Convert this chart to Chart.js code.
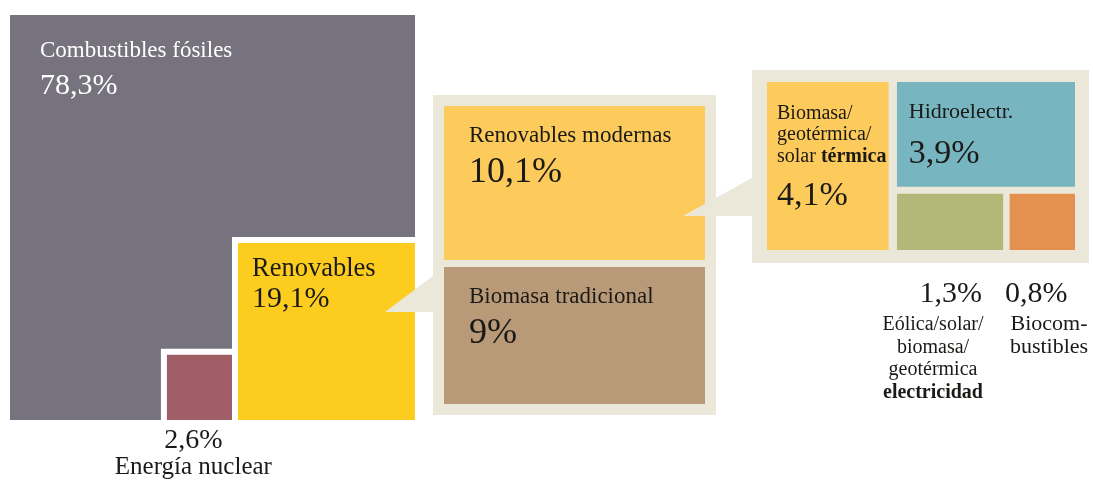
<!DOCTYPE html>
<html>
<head>
<meta charset="utf-8">
<script src="https://cdn.jsdelivr.net/npm/chart.js@4.4.0/dist/chart.umd.min.js"></script>
<style>
  html, body { margin: 0; padding: 0; background: #fff; }
</style>
</head>
<body>
<canvas id="chart" width="1093" height="482"></canvas>
<script>
// data
const mainLabels = ["Combustibles fósiles", "Renovables", "Energía nuclear"];
const mainValues = [78.3, 19.1, 2.6];
const renewLabels = ["Renovables modernas", "Biomasa tradicional"];
const renewValues = [10.1, 9];
const modernLabels = ["Biomasa/ geotérmica/ solar térmica", "Hidroelectr.", "Eólica/solar/ biomasa/ geotérmica electricidad", "Biocom- bustibles"];
const modernValues = [4.1, 3.9, 1.3, 0.8];

// colours
const mainColors = ["#76737e", "#fccd1f", "#a05f66"];
const renewColors = ["#fccb5b", "#b99a78"];
const modernColors = ["#fccb5b", "#77b5c0", "#b3b878", "#e4904f"];
const panelColor = "#ebe8d9";
const ink = "#1c1a17";

const W = 1093, H = 482;
const pct = v => String(v).replace(".", ",") + "%";

// layout of the three blocks (scale units = pixels)
const box = { x: 10, y: 15, size: 405, gap: 6 };
const p2 = { x0: 433, y0: 95, x1: 716, y1: 415, pad: 11, gap: 7 };
const p3 = { x0: 752, y0: 70, x1: 1089, y1: 263, padL: 15, padT: 12, padR: 14, padB: 13, gapX: 8, gapY: 7, gapS: 6 };

// block 1: squares with area share of the whole
const total = mainValues.reduce((a, b) => a + b, 0);
const bx1 = box.x + box.size, by1 = box.y + box.size;
const rSide = box.size * Math.sqrt(mainValues[1] / total);
const nSide = box.size * Math.sqrt(mainValues[2] / total);
const fossil = { x0: box.x, y0: box.y, x1: bx1, y1: by1 };
const renew = { x0: bx1 - rSide, y0: by1 - rSide, x1: bx1, y1: by1 };
const nuc = { x0: renew.x0 - box.gap - nSide, y0: by1 - nSide, x1: renew.x0 - box.gap, y1: by1 };

// block 2: split of renewables
const i2 = { x0: p2.x0 + p2.pad, y0: p2.y0 + p2.pad, x1: p2.x1 - p2.pad, y1: p2.y1 - p2.pad };
const h2 = i2.y1 - i2.y0 - p2.gap;
const rSum = renewValues[0] + renewValues[1];
const modern = { x0: i2.x0, y0: i2.y0, x1: i2.x1, y1: i2.y0 + h2 * renewValues[0] / rSum };
const trad = { x0: i2.x0, y0: modern.y1 + p2.gap, x1: i2.x1, y1: i2.y1 };

// block 3: split of modern renewables
const i3 = { x0: p3.x0 + p3.padL, y0: p3.y0 + p3.padT, x1: p3.x1 - p3.padR, y1: p3.y1 - p3.padB };
const mSum = modernValues.reduce((a, b) => a + b, 0);
const rightSum = mSum - modernValues[0];
const leftW = (i3.x1 - i3.x0 - p3.gapX) * modernValues[0] / mSum;
const cBio = { x0: i3.x0, y0: i3.y0, x1: i3.x0 + leftW, y1: i3.y1 };
const rx0 = cBio.x1 + p3.gapX;
const hydroH = (i3.y1 - i3.y0 - p3.gapY) * modernValues[1] / rightSum;
const cHydro = { x0: rx0, y0: i3.y0, x1: i3.x1, y1: i3.y0 + hydroH };
const smallW = (i3.x1 - rx0 - p3.gapS) * modernValues[2] / (modernValues[2] + modernValues[3]);
const cWind = { x0: rx0, y0: cHydro.y1 + p3.gapY, x1: rx0 + smallW, y1: i3.y1 };
const cFuel = { x0: cWind.x1 + p3.gapS, y0: cHydro.y1 + p3.gapY, x1: i3.x1, y1: i3.y1 };

// layers in paint order
const layers = [];
function rect(r, color) {
  layers.push({ data: [{ x: r.x0, y: r.y0 }, { x: r.x1, y: r.y0 }], fill: { value: r.y1 }, backgroundColor: color });
}
function pointer(ax, ay, tx, ty, color) {
  layers.push({ data: [{ x: ax, y: ay }, { x: tx, y: ty }], fill: { value: ay }, backgroundColor: color });
}
rect(fossil, mainColors[0]);
rect({ x0: renew.x0 - box.gap, y0: renew.y0 - box.gap, x1: renew.x1, y1: renew.y1 }, "#ffffff");
rect({ x0: nuc.x0 - box.gap, y0: nuc.y0 - box.gap, x1: nuc.x1, y1: nuc.y1 }, "#ffffff");
rect(renew, mainColors[1]);
rect(nuc, mainColors[2]);
pointer(385, 312, p2.x0, 276, panelColor);
rect(p2, panelColor);
rect(modern, renewColors[0]);
rect(trad, renewColors[1]);
pointer(683, 216, p3.x0, 178, panelColor);
rect(p3, panelColor);
rect(cBio, modernColors[0]);
rect(cHydro, modernColors[1]);
rect(cWind, modernColors[2]);
rect(cFuel, modernColors[3]);

const datasets = layers.map((l, i) => Object.assign({
  borderColor: "transparent",
  borderWidth: 0,
  pointRadius: 0,
  tension: 0,
  order: layers.length - i
}, l));

// text labels
const serif = '"Liberation Serif", "Times New Roman", serif';
const texts = [];
function txt(x, y, size, segs, align, color) {
  if (typeof segs === "string") segs = [{ s: segs }];
  texts.push({ x, y, size, segs, align: align || "left", color: color || ink });
}
txt(fossil.x0 + 30, fossil.y0 + 42, 23, mainLabels[0], "left", "#ffffff");
txt(fossil.x0 + 30, fossil.y0 + 79, 30, pct(mainValues[0]), "left", "#ffffff");
txt(renew.x0 + 14, renew.y0 + 33, 26.5, mainLabels[1]);
txt(renew.x0 + 14, renew.y0 + 64, 30, pct(mainValues[1]));
const nucC = (nuc.x0 + nuc.x1) / 2 - 6;
txt(nucC, nuc.y1 + 28, 28, pct(mainValues[2]), "center");
txt(nucC, nuc.y1 + 54, 25, mainLabels[2], "center");

txt(modern.x0 + 25, modern.y0 + 36, 23, renewLabels[0]);
txt(modern.x0 + 25, modern.y0 + 76, 36, pct(renewValues[0]));
txt(trad.x0 + 25, trad.y0 + 36, 23, renewLabels[1]);
txt(trad.x0 + 25, trad.y0 + 76, 36, pct(renewValues[1]));

const bioLines = modernLabels[0].split(" ");
txt(cBio.x0 + 10, cBio.y0 + 37, 20, bioLines[0]);
txt(cBio.x0 + 10, cBio.y0 + 58, 20, bioLines[1]);
txt(cBio.x0 + 10, cBio.y0 + 80, 20, [{ s: bioLines[2] + " " }, { s: bioLines[3], bold: true }]);
txt(cBio.x0 + 10, cBio.y0 + 123, 34, pct(modernValues[0]));
txt(cHydro.x0 + 12, cHydro.y0 + 36, 22, modernLabels[1]);
txt(cHydro.x0 + 12, cHydro.y0 + 81, 34, pct(modernValues[1]));

const below = p3.y1;
txt(982, below + 39, 30, pct(modernValues[2]), "right");
txt(1005, below + 39, 30, pct(modernValues[3]), "left");
const windLines = modernLabels[2].split(" ");
windLines.forEach((s, i) => txt(933, below + 67 + i * 22.7, 20, [{ s, bold: i === 3 }], "center"));
modernLabels[3].split(" ").forEach((s, i) => txt(1049, below + 67 + i * 22.7, 22, s, "center"));

const labelPlugin = {
  id: "boxLabels",
  afterDatasetsDraw(chart) {
    const { ctx, scales: { x, y } } = chart;
    ctx.save();
    ctx.textBaseline = "alphabetic";
    ctx.textAlign = "left";
    for (const t of texts) {
      const px = x.getPixelForValue(t.x), py = y.getPixelForValue(t.y);
      const fonts = t.segs.map(sg => (sg.bold ? "bold " : "") + t.size + "px " + serif);
      const widths = t.segs.map((sg, i) => { ctx.font = fonts[i]; return ctx.measureText(sg.s).width; });
      const tw = widths.reduce((a, b) => a + b, 0);
      let cx = t.align === "center" ? px - tw / 2 : t.align === "right" ? px - tw : px;
      ctx.fillStyle = t.color;
      t.segs.forEach((sg, i) => { ctx.font = fonts[i]; ctx.fillText(sg.s, cx, py); cx += widths[i]; });
    }
    ctx.restore();
  }
};

new Chart(document.getElementById("chart"), {
  type: "line",
  data: { datasets },
  options: {
    responsive: false,
    animation: false,
    events: [],
    devicePixelRatio: 1,
    layout: { padding: 0 },
    scales: {
      x: { type: "linear", min: 0, max: W, display: false },
      y: { type: "linear", min: 0, max: H, reverse: true, display: false }
    },
    plugins: { legend: { display: false }, tooltip: { enabled: false } }
  },
  plugins: [labelPlugin]
});
</script>
</body>
</html>
